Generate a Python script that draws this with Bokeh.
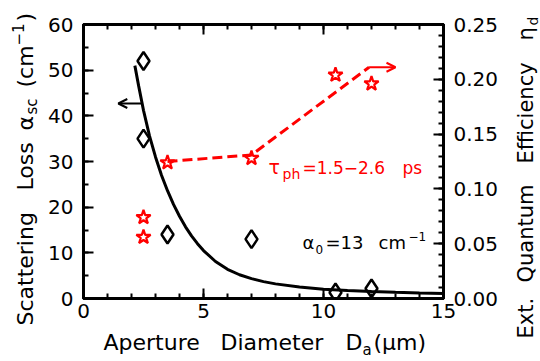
import math
from bokeh.plotting import figure
from bokeh.layouts import row, column
from bokeh.models import (Range1d, LinearAxis, Label, Arrow, OpenHead,
                          FixedTicker, NumeralTickFormatter, CustomJSTickFormatter)
from bokeh.embed import file_html
from bokeh.resources import INLINE

# ---------------- data ----------------
# scattering loss (left axis, cm^-1), measured points
diam_D = [2.5, 2.5, 3.5, 7.0, 10.5, 12.0]
diam_alpha = [52.0, 35.0, 14.0, 13.0, 1.3, 2.2]

# scattering-loss curve (left axis)
fit_D = [2.14, 2.3, 2.5, 2.75, 3.0, 3.25, 3.5, 3.75, 4.0, 4.25, 4.5, 4.75, 5.0,
         5.5, 6.0, 6.5, 7.0, 7.5, 8.0, 9.0, 10.0, 11.0, 12.0, 13.0, 14.0, 15.0]
fit_alpha = [51.0, 46.5, 41.2, 35.6, 31.0, 27.0, 23.6, 20.6, 18.0, 15.7, 13.7, 12.0, 10.5,
             8.1, 6.4, 5.2, 4.35, 3.7, 3.2, 2.5, 2.05, 1.75, 1.52, 1.35, 1.2, 1.08]

# external quantum efficiency (right axis)
star_D = [2.5, 2.5, 3.5, 7.0, 10.5, 12.0]
star_eta = [0.074, 0.056, 0.124, 0.128, 0.204, 0.196]

# dashed guide line (right axis)
guide_D = [3.5, 7.0, 11.9]
guide_eta = [0.125, 0.131, 0.211]

x_ticks = [0, 5, 10, 15]
y_ticks = [0, 10, 20, 30, 40, 50, 60]
eta_ticks = [0.0, 0.05, 0.10, 0.15, 0.20, 0.25]

FONT = "DejaVu Sans"
W, H = 540, 361
LW, RW, BH = 45, 36, 33            # strips holding the axis titles
MW = W - LW - RW                   # main figure width
MH = H - BH                        # main figure height
FL, FR, FT, FB = 83, 443, 24, 298  # frame edges in page pixels
MID = 0.345                        # baseline offset of a "middle"-anchored text, in em

p = figure(width=MW, height=MH, x_range=Range1d(0, 15), y_range=Range1d(0, 60),
           output_backend="svg", toolbar_location=None,
           min_border_left=FL - LW, min_border_right=LW + MW - FR,
           min_border_top=FT, min_border_bottom=MH - FB)
p.extra_y_ranges = {"eta": Range1d(0, 0.25)}
p.grid.visible = False
p.outline_line_color = "black"
p.outline_line_width = 3


def style_axis(ax, labels=True, standoff=8):
    ax.axis_line_width = 3
    ax.axis_line_color = "black"
    ax.major_tick_in = 10
    ax.major_tick_out = 0
    ax.minor_tick_in = 5
    ax.minor_tick_out = 0
    ax.major_tick_line_width = 2
    ax.minor_tick_line_width = 2
    ax.major_tick_line_color = "black"
    ax.minor_tick_line_color = "black"
    ax.major_label_text_font = FONT
    ax.major_label_text_font_size = "20px"
    ax.major_label_text_color = "black"
    ax.major_label_standoff = standoff if labels else 0


xax = p.xaxis[0]
xax.ticker = FixedTicker(ticks=x_ticks, minor_ticks=list(range(0, 16)))
style_axis(xax, standoff=5)

yax = p.yaxis[0]
yax.ticker = FixedTicker(ticks=y_ticks, minor_ticks=list(range(0, 61, 5)))
style_axis(yax, standoff=10)

rax = LinearAxis(y_range_name="eta")
rax.ticker = FixedTicker(ticks=eta_ticks, minor_ticks=[i / 100 for i in range(26)])
rax.formatter = NumeralTickFormatter(format="0.00")
style_axis(rax, standoff=10)
p.add_layout(rax, "right")

tax = LinearAxis()
tax.ticker = FixedTicker(ticks=x_ticks, minor_ticks=list(range(0, 16)))
tax.formatter = CustomJSTickFormatter(code="return ''")
style_axis(tax, labels=False)
p.add_layout(tax, "above")

# ---------------- glyphs ----------------
p.line(fit_D, fit_alpha, line_color="black", line_width=3)
p.scatter(diam_D, diam_alpha, marker="diamond", size=18, fill_color=None,
          line_color="black", line_width=2.5)
p.line(guide_D, guide_eta, line_color="red", line_width=3, line_dash="10 5",
       y_range_name="eta")
p.scatter(star_D, star_eta, marker="star", size=15, fill_color=None,
          line_color="red", line_width=2.2, y_range_name="eta")

p.add_layout(Arrow(x_start=2.43, y_start=42.7, x_end=1.45, y_end=42.7,
                   line_color="black", line_width=2,
                   end=OpenHead(size=9, line_width=2, line_color="black")))
p.add_layout(Arrow(x_start=11.9, y_start=0.211, x_end=13.0, y_end=0.211,
                   line_color="red", line_width=2, y_range_name="eta",
                   end=OpenHead(size=9, line_width=2, line_color="red")))


# ---------------- text ----------------
def lab_main(text, cx, base_y, size, color="black"):
    """Horizontal text inside the main frame; base_y = wanted baseline (page px)."""
    cy = base_y - MID * size
    p.add_layout(Label(x=cx - FL, y=FB - cy, x_units="screen", y_units="screen",
                       text=text, text_font=FONT, text_font_size=f"{size}px",
                       text_color=color, text_align="left", text_baseline="middle"))


def text_fig(w, h, x0, x1, y0, y1, **borders):
    # ranges in page-pixel coordinates of the figure's frame (y downwards)
    f = figure(width=w, height=h, x_range=Range1d(x0, x1), y_range=Range1d(y1, y0),
               output_backend="svg", toolbar_location=None,
               x_axis_location=None, y_axis_location=None, **borders)
    f.grid.visible = False
    f.outline_line_color = None
    return f


def lab_h(f, text, cx, base_y, size):
    f.add_layout(Label(x=cx, y=base_y - MID * size, text=text, text_font=FONT,
                       text_font_size=f"{size}px", text_color="black",
                       text_align="left", text_baseline="middle"))


def lab_v(f, text, base_x, start_y, size):
    # reads bottom to top; base_x = wanted baseline column, start_y = first letter
    f.add_layout(Label(x=base_x - MID * size, y=start_y, text=text, text_font=FONT,
                       text_font_size=f"{size}px", text_color="black",
                       angle=math.pi / 2, text_align="left", text_baseline="middle"))


RX = LW + MW
fL = text_fig(LW, H, 0, LW, 0, H, min_border=0)
fR = text_fig(RW, H, RX, W, 0, H, min_border=0)
fB = text_fig(MW, BH, FL, FR, MH, H, min_border_left=FL - LW,
              min_border_right=LW + MW - FR, min_border_top=0, min_border_bottom=0)

# left axis title
lab_v(fL, "Scattering", 33, 325, 22)
lab_v(fL, "Loss", 33, 190, 22)
lab_v(fL, "\u03b1", 33, 130, 22)
lab_v(fL, "sc", 37, 114, 15)
lab_v(fL, "(cm", 33, 87, 22)
lab_v(fL, "\u22121", 23, 45, 15)
lab_v(fL, ")", 33, 21, 22)

# right axis title
lab_v(fR, "Ext.", 533, 338, 21)
lab_v(fR, "Quantum", 533, 282, 21)
lab_v(fR, "Efficiency", 533, 163, 21)
lab_v(fR, "\u03b7", 533, 40, 21)
lab_v(fR, "d", 537, 25, 14)

# x axis title
lab_h(fB, "Aperture", 103, 350, 22)
lab_h(fB, "Diameter", 220, 350, 22)
lab_h(fB, "D", 345, 350, 22)
lab_h(fB, "a", 362, 355, 15)
lab_h(fB, "(\u03bcm)", 373, 350, 22)

# in-plot annotations
lab_main("\u03c4", 268, 173, 19, color="red")
lab_main("ph", 282, 178, 14, color="red")
lab_main("=1.5\u22122.6", 302, 173, 17, color="red")
lab_main("ps", 402, 173, 17, color="red")

lab_main("\u03b1", 302, 248, 18)
lab_main("0", 315, 253, 12)
lab_main("=13", 325, 248, 18)
lab_main("cm", 378, 248, 18)
lab_main("\u22121", 408, 240, 12)

layout = row(fL, column(p, fB), fR)
open("out.html", "w").write(file_html(layout, INLINE))
